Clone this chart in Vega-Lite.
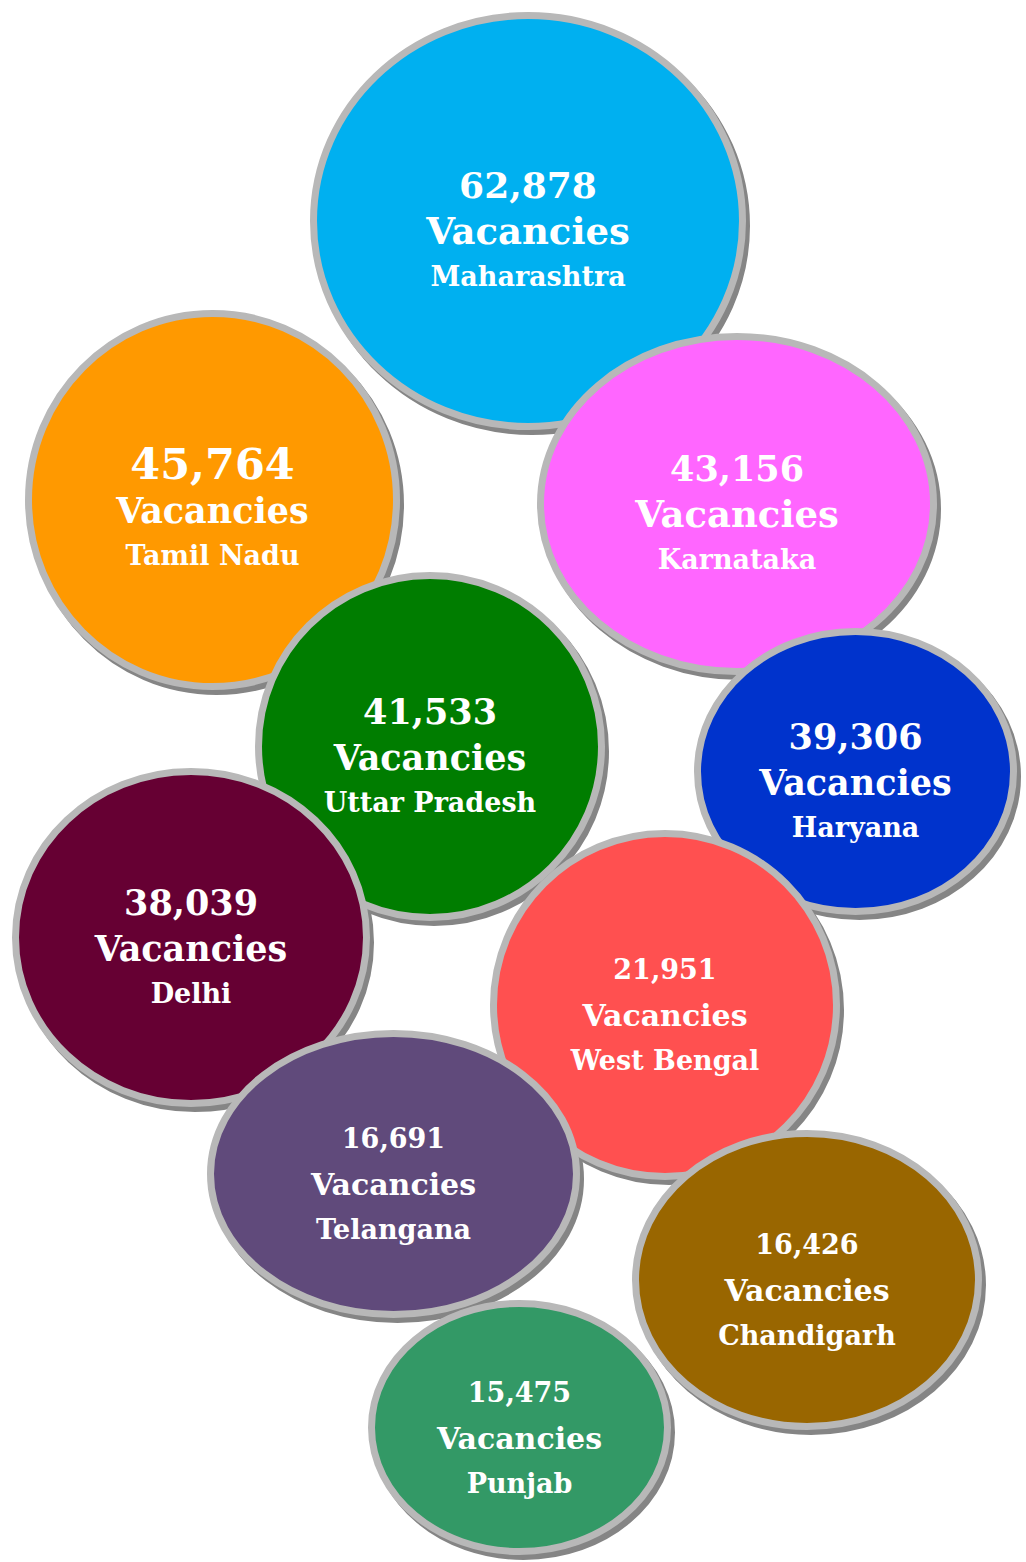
{
  "$schema": "https://vega.github.io/schema/vega-lite/v6.json",
  "width": 1026,
  "height": 1562,
  "autosize": "none",
  "padding": 0,
  "background": "white",
  "config": {"view": {"stroke": null}},
  "data": {
    "values": [
      {"state": "Maharashtra", "vacancies": 62878, "cx": 528, "cy": 221},
      {"state": "Tamil Nadu", "vacancies": 45764, "cx": 212.5, "cy": 500},
      {"state": "Karnataka", "vacancies": 43156, "cx": 737, "cy": 504},
      {"state": "Uttar Pradesh", "vacancies": 41533, "cx": 430, "cy": 746.5},
      {"state": "Haryana", "vacancies": 39306, "cx": 855.5, "cy": 771.5},
      {"state": "Delhi", "vacancies": 38039, "cx": 191, "cy": 937.5},
      {"state": "West Bengal", "vacancies": 21951, "cx": 665, "cy": 1005},
      {"state": "Telangana", "vacancies": 16691, "cx": 393.5, "cy": 1174},
      {"state": "Chandigarh", "vacancies": 16426, "cx": 807, "cy": 1280},
      {"state": "Punjab", "vacancies": 15475, "cx": 519.5, "cy": 1427.5}
    ]
  },
  "encoding": {
    "x": {"field": "cx", "type": "quantitative", "scale": {"domain": [0, 1026], "nice": false, "zero": false}, "axis": null},
    "y": {"field": "cy", "type": "quantitative", "scale": {"domain": [0, 1562], "nice": false, "zero": false, "reverse": true}, "axis": null}
  },
  "layer": [
    {
      "mark": {"type": "point", "filled": true, "opacity": 1, "fill": "#858585", "stroke": "#858585", "strokeWidth": 7, "xOffset": 4, "yOffset": 5},
      "encoding": {
        "size": {"value": 40000},
        "shape": {
          "field": "state", "type": "nominal", "legend": null,
          "scale": {
            "domain": ["Maharashtra", "Tamil Nadu", "Karnataka", "Uttar Pradesh", "Haryana", "Delhi", "West Bengal", "Telangana", "Chandigarh", "Punjab"],
            "range": [
              "M-2.145,0A2.145,2.055,0,1,0,2.145,0A2.145,2.055,0,1,0,-2.145,0Z",
              "M-1.84,0A1.84,1.865,0,1,0,1.84,0A1.84,1.865,0,1,0,-1.84,0Z",
              "M-1.965,0A1.965,1.675,0,1,0,1.965,0A1.965,1.675,0,1,0,-1.965,0Z",
              "M-1.715,0A1.715,1.71,0,1,0,1.715,0A1.715,1.71,0,1,0,-1.715,0Z",
              "M-1.58,0A1.58,1.40,0,1,0,1.58,0A1.58,1.40,0,1,0,-1.58,0Z",
              "M-1.755,0A1.755,1.66,0,1,0,1.755,0A1.755,1.66,0,1,0,-1.755,0Z",
              "M-1.715,0A1.715,1.715,0,1,0,1.715,0A1.715,1.715,0,1,0,-1.715,0Z",
              "M-1.83,0A1.83,1.405,0,1,0,1.83,0A1.83,1.405,0,1,0,-1.83,0Z",
              "M-1.715,0A1.715,1.465,0,1,0,1.715,0A1.715,1.465,0,1,0,-1.715,0Z",
              "M-1.48,0A1.48,1.24,0,1,0,1.48,0A1.48,1.24,0,1,0,-1.48,0Z"
            ]
          }
        }
      }
    },
    {
      "mark": {"type": "point", "filled": true, "opacity": 1, "stroke": "#b8b8b8", "strokeWidth": 7},
      "encoding": {
        "size": {"value": 40000},
        "shape": {"field": "state", "type": "nominal", "legend": null},
        "fill": {
          "field": "state", "type": "nominal", "legend": null,
          "scale": {
            "domain": ["Maharashtra", "Tamil Nadu", "Karnataka", "Uttar Pradesh", "Haryana", "Delhi", "West Bengal", "Telangana", "Chandigarh", "Punjab"],
            "range": ["#00B0F0", "#FF9900", "#FF66FF", "#007D00", "#0033CC", "#660033", "#FF5050", "#604A7B", "#996600", "#339966"]
          }
        }
      }
    },
    {
      "mark": {"type": "text", "font": "DejaVu Serif", "fontWeight": "bold", "color": "white", "baseline": "middle", "align": "center", "dy": -34},
      "encoding": {
        "text": {"field": "vacancies", "type": "quantitative", "format": ","},
        "size": {"field": "vacancies", "type": "quantitative", "legend": null, "scale": {"type": "threshold", "domain": [25000, 45000, 50000], "range": [27, 35, 43, 36]}}
      }
    },
    {
      "mark": {"type": "text", "font": "DejaVu Serif", "fontWeight": "bold", "color": "white", "baseline": "middle", "align": "center", "dy": 12, "text": "Vacancies"},
      "encoding": {
        "size": {"field": "vacancies", "type": "quantitative", "legend": null, "scale": {"type": "threshold", "domain": [25000, 43000, 45000, 50000], "range": [30, 35, 37, 35, 37]}}
      }
    },
    {
      "mark": {"type": "text", "font": "DejaVu Serif", "fontWeight": "bold", "color": "white", "baseline": "middle", "align": "center", "dy": 57, "fontSize": 27},
      "encoding": {
        "text": {"field": "state", "type": "nominal"}
      }
    }
  ],
  "resolve": {"scale": {"size": "independent"}}
}
